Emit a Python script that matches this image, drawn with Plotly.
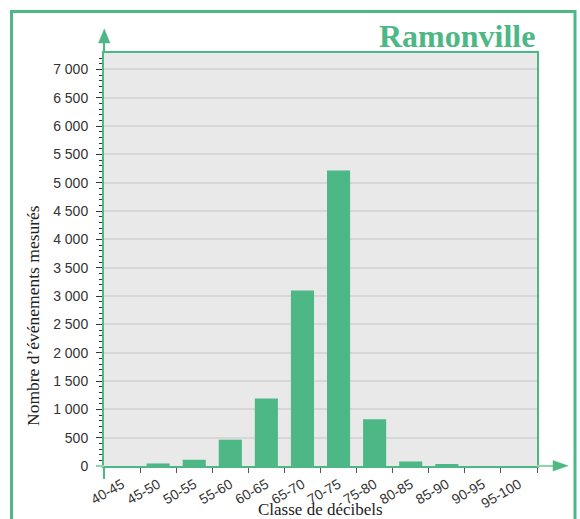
import plotly.graph_objects as go

categories = ["40-45", "45-50", "50-55", "55-60", "60-65", "65-70",
              "70-75", "75-80", "80-85", "85-90", "90-95", "95-100"]
values = [0, 45, 110, 465, 1190, 3100, 5215, 825, 80, 30, 0, 0]
y_range = [0, 7290]

GREEN = "#4db886"
LIGHT_GREEN = "#8fd3af"

W, H = 580, 519
ML, MR, MT, MB = 104, 43, 53, 53
PW, PH = W - ML - MR, H - MT - MB


def px_x(p):
    return (p - ML) / PW


def px_y(p):
    return (H - MB - p) / PH


x_pos = [i + 0.5 for i in range(len(categories))]

fig = go.Figure()
fig.add_trace(go.Bar(x=x_pos, y=values, width=0.64, marker=dict(color=GREEN, line=dict(width=0)),
                     hoverinfo="skip"))

fig.update_layout(
    width=W, height=H,
    margin=dict(l=ML, r=MR, t=MT, b=MB, autoexpand=False),
    paper_bgcolor="white",
    plot_bgcolor="#e9e9e9",
    showlegend=False,
    separators=", ",
    font=dict(family="Liberation Sans, Arial, sans-serif", size=14, color="#333"),
    xaxis=dict(
        range=[0, len(categories)],
        tickmode="array",
        tickvals=list(range(len(categories) + 1)),
        ticktext=categories + [""],
        tickangle=-30,
        ticklabelshift=18,
        ticklabelstandoff=-2,
        automargin=False,
        ticks="outside", ticklen=5, tickcolor="#555", tickwidth=1,
        showgrid=False, zeroline=False,
        showline=True, linecolor=GREEN, linewidth=2, mirror=True,
        tickfont=dict(size=14, color="#333"),
    ),
    yaxis=dict(
        range=y_range,
        dtick=500, tick0=0,
        tickformat=",d", separatethousands=True,
        automargin=False,
        ticks="outside", ticklen=6, tickcolor="#333", tickwidth=1,
        minor=dict(dtick=100, ticks="outside", ticklen=3, tickcolor="#333", tickwidth=1, showgrid=False),
        showgrid=True, gridcolor="#d7d7d7", gridwidth=1.5,
        zeroline=False,
        showline=True, linecolor=GREEN, linewidth=2, mirror=True,
        ticklabelstandoff=5,
        tickfont=dict(size=14, color="#333"),
    ),
    yaxis2=dict(
        range=y_range, overlaying="y", side="left",
        dtick=1000, tick0=0, automargin=False,
        ticks="outside", ticklen=10, tickcolor="#333", tickwidth=1,
        showticklabels=False, showgrid=False, zeroline=False, showline=False,
    ),
)

shapes = []
# outer frame
shapes.append(dict(type="rect", xref="paper", yref="paper",
                   x0=px_x(11.5), x1=px_x(575), y0=px_y(540), y1=px_y(11.5),
                   line=dict(color=GREEN, width=3), fillcolor="rgba(0,0,0,0)", layer="below"))
# y axis arrow
shapes.append(dict(type="line", xref="paper", yref="paper",
                   x0=0, x1=0, y0=1, y1=px_y(42), line=dict(color=GREEN, width=2)))
shapes.append(dict(type="path", xref="paper", yref="paper",
                   path=f"M {px_x(98.5)},{px_y(43)} L {px_x(110)},{px_y(43)} L {px_x(104.3)},{px_y(29)} Z",
                   fillcolor=GREEN, line=dict(color=GREEN, width=0.5)))
# y axis extension below x axis
shapes.append(dict(type="line", xref="paper", yref="paper",
                   x0=0, x1=0, y0=0, y1=px_y(479), line=dict(color=GREEN, width=2)))
# x axis arrow
shapes.append(dict(type="line", xref="paper", yref="paper",
                   x0=1, x1=px_x(554), y0=0, y1=0, line=dict(color=LIGHT_GREEN, width=2)))
shapes.append(dict(type="path", xref="paper", yref="paper",
                   path=f"M {px_x(553)},{px_y(460.5)} L {px_x(553)},{px_y(471)} L {px_x(568)},{px_y(465.8)} Z",
                   fillcolor=GREEN, line=dict(color=GREEN, width=0.5)))
# small extension of x axis to the left
shapes.append(dict(type="line", xref="paper", yref="paper",
                   x0=px_x(96), x1=0, y0=0, y1=0, line=dict(color=LIGHT_GREEN, width=2)))
fig.update_layout(shapes=shapes)

annotations = [
    dict(text="<b>Ramonville</b>", xref="paper", yref="paper", x=1, y=px_y(36),
         xanchor="right", yanchor="middle", showarrow=False,
         font=dict(family="Liberation Serif, Times New Roman, serif", size=32, color=GREEN)),
    dict(text="Classe de décibels", xref="paper", yref="paper", x=0.5, y=px_y(509.5),
         xanchor="center", yanchor="middle", showarrow=False,
         font=dict(family="Liberation Serif, Times New Roman, serif", size=17, color="#222")),
    dict(text="Nombre d’événements mesurés", xref="paper", yref="paper", x=px_x(33), y=px_y(316),
         xanchor="center", yanchor="middle", textangle=-90, showarrow=False,
         font=dict(family="Liberation Serif, Times New Roman, serif", size=17.5, color="#222")),
]
fig.update_layout(annotations=annotations)

fig.write_html("out.html", config={"displayModeBar": False},
               post_script="document.body.style.margin='0';")
